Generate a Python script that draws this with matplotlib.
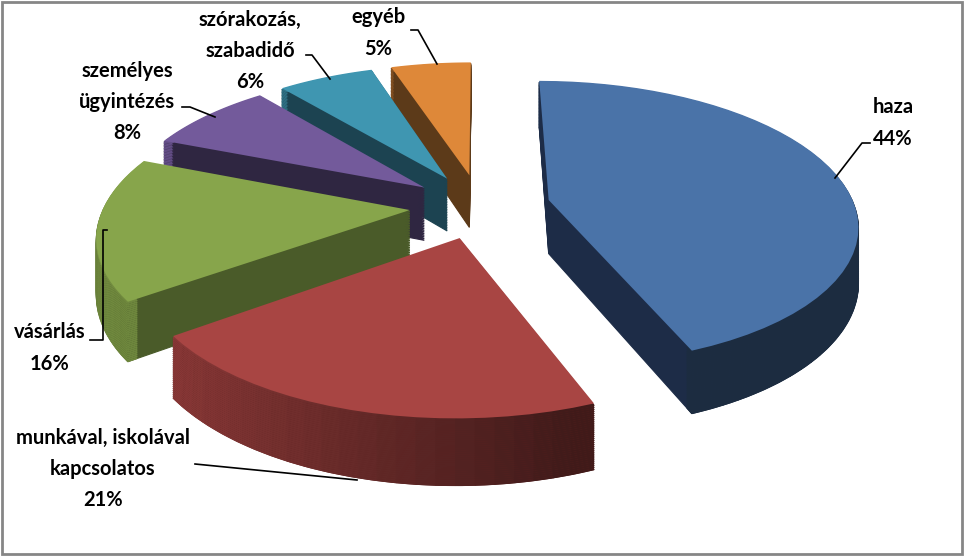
"""
Utazási célok megoszlása - 3D-s, szétrobbantott kördiagram
"""
import numpy as np
import matplotlib
matplotlib.use('Agg')
import matplotlib.pyplot as plt
import matplotlib.colors as mcolors
from matplotlib.path import Path
from matplotlib.transforms import Transform
from matplotlib.patches import Rectangle, Wedge

plt.rcParams['font.family'] = ['Lato', 'DejaVu Sans']

# adatok
categories = ['haza', 'munkával, iskolával\nkapcsolatos', 'vásárlás',
              'személyes\nügyintézés', 'szórakozás,\nszabadidő', 'egyéb']
shares = [44, 21, 16, 8, 6, 5]

top_colors = ['#4A73A8', '#A84543', '#87A54B', '#735A9B', '#3F96B1', '#DE8839']
cut_colors = ['#1D2C47', '#5E2221', '#4A5B29', '#2F2641', '#1C4351', '#5C3A19']

# képpont-elrendezés (perspektíva)
CX, CY = 480, 206
RX, RY = 306, 140
K = 0.16
DEPTH = 54
EXPLODE = 0.23


class Tilt(Transform):
    """Döntött sík -> képpont, egyszerű perspektívával."""
    input_dims = output_dims = 2
    is_separable = False
    has_inverse = False

    def __init__(self, z=0.0):
        super().__init__()
        self.z = z

    def transform_non_affine(self, values):
        xy = np.asarray(values, float)
        w = 1 + K * xy[:, 1]
        return np.column_stack([CX + RX * xy[:, 0] / w,
                                CY - RY * xy[:, 1] / w + DEPTH * self.z / w])

    def transform_path_non_affine(self, path):
        pts = [bez(np.linspace(0, 1, 12)) for bez, _ in path.iter_bezier()]
        return Path(self.transform_non_affine(np.vstack(pts)), closed=True)


def rim_color(base, phi):
    # balról jövő fény: a bal felé néző fal világosabb
    f = np.clip(0.5 - 0.4 * np.cos(np.radians(phi)), 0.38, 0.92)
    return np.array(mcolors.to_rgb(base)) * f


fig = plt.figure(figsize=(9.66, 5.56), dpi=100)
ax = fig.add_axes([0, 0, 1, 1])

explode = [EXPLODE] * len(shares)

# oldalfalak: rétegenként alulról felfelé
n_layers = 32
step = 3.0
for i, z in enumerate(np.linspace(1, 0.03, n_layers)):
    wedges, _ = ax.pie(shares, explode=explode, startangle=90, counterclock=False,
                       colors=cut_colors, wedgeprops=dict(linewidth=0.8))
    for w, base in zip(wedges, top_colors):
        w.set_edgecolor(w.get_facecolor())
        w.set_transform(Tilt(z) + ax.transData)
        w.set_zorder(1 + i * 0.01)
        # külső palást kis szeletekben, árnyalva
        for a0 in np.arange(w.theta1, w.theta2, step):
            a1 = min(a0 + step, w.theta2)
            c = rim_color(base, (a0 + a1) / 2)
            seg = Wedge(w.center, w.r, a0, a1, width=0.03,
                        facecolor=c, edgecolor=c, linewidth=0.8)
            seg.set_transform(Tilt(z) + ax.transData)
            seg.set_zorder(1 + i * 0.01 + 0.005)
            ax.add_patch(seg)

# fedőlap
wedges, _ = ax.pie(shares, explode=explode, startangle=90, counterclock=False,
                   colors=top_colors, wedgeprops=dict(linewidth=0))
for w in wedges:
    w.set_transform(Tilt(0) + ax.transData)
    w.set_zorder(3)

ax.set_aspect('auto')
ax.set_xlim(0, 966)
ax.set_ylim(556, 0)
ax.axis('off')

# feliratok
label_pos = [(893, 123), (103, 469), (50, 348), (127, 102), (250, 51), (378, 33)]
leaders = [
    [(835, 178), (862, 143), (870, 143)],
    [(357, 480), (195, 464)],
    [(107, 230), (103, 230), (103, 340), (90, 340)],
    [(215, 117), (190, 107), (182, 107)],
    [(330, 79), (312, 55), (306, 55)],
    [(437, 64), (418, 30), (411, 30)],
]
for cat, val, (tx, ty), pts in zip(categories, shares, label_pos, leaders):
    ax.text(tx, ty, f'{cat}\n{val}%', ha='center', va='center', fontsize=14.5,
            fontweight='bold', linespacing=1.7, zorder=5)
    xs, ys = zip(*pts)
    ax.plot(xs, ys, color='black', lw=1.2, zorder=4)

fig.add_artist(Rectangle((0.002, 0.004), 0.994, 0.993, transform=fig.transFigure,
                         fill=False, edgecolor='#868686', linewidth=2))

fig.savefig('out.png', dpi=100, facecolor='white')
plt.close(fig)
